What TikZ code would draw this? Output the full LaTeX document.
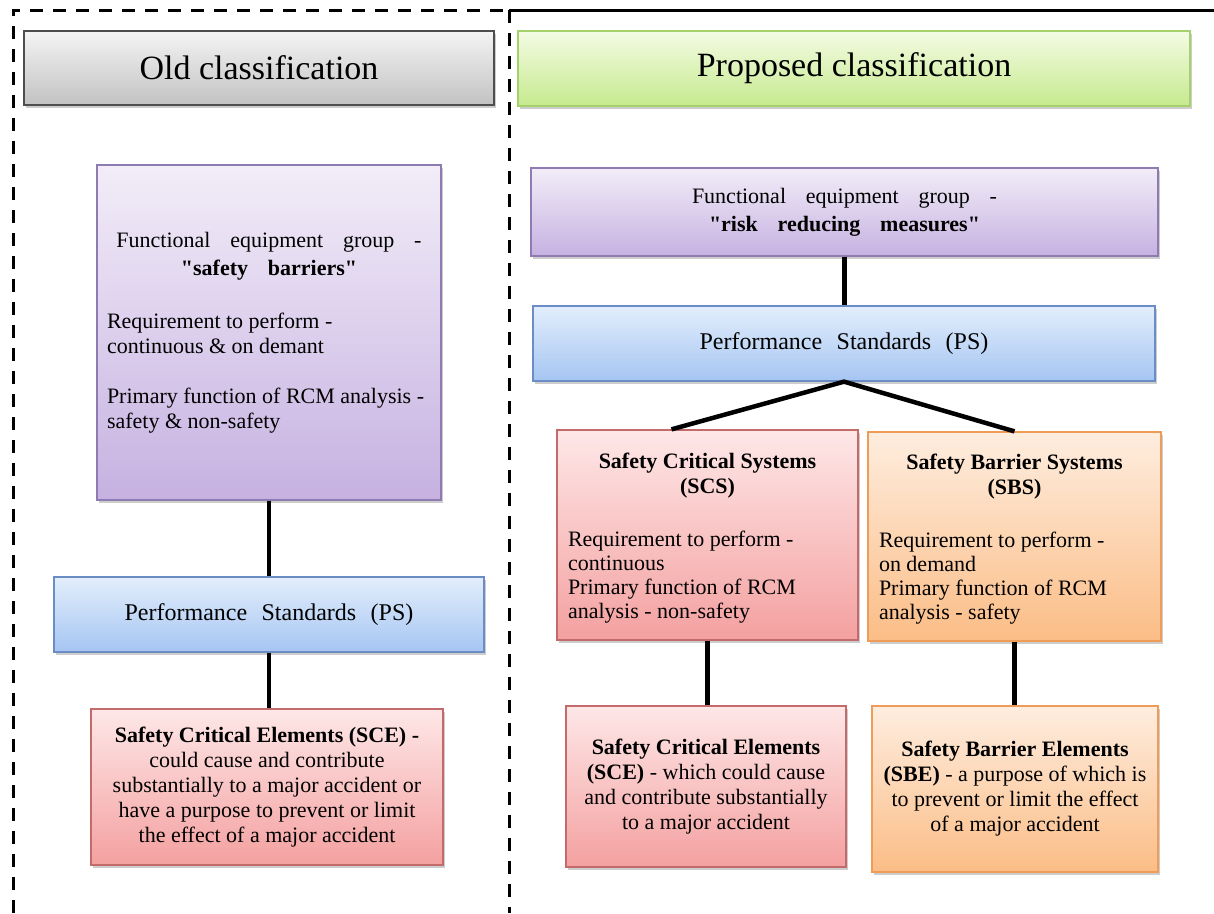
\documentclass[tikz,border=0pt]{standalone}
\usepackage{fontspec}
\setmainfont{Liberation Serif}
% a second instance without the TeX ligature mapping, for straight quotes
\newfontfamily\plainserif{Liberation Serif}
\usetikzlibrary{shadows,calc}

% fill colours: light top, deeper bottom, plus border
\definecolor{grayT}{HTML}{F4F4F4}\definecolor{grayB}{HTML}{C2C2C2}\definecolor{grayD}{HTML}{4E4E4E}
\definecolor{greenT}{HTML}{F4FBE4}\definecolor{greenB}{HTML}{C6EA8E}\definecolor{greenD}{HTML}{A6D06C}
\definecolor{purpT}{HTML}{F2EDF8}\definecolor{purpB}{HTML}{C6B1E1}\definecolor{purpD}{HTML}{8D7BB2}
\definecolor{blueT}{HTML}{E3EEFC}\definecolor{blueB}{HTML}{A5C5F2}\definecolor{blueD}{HTML}{6A8DC5}
\definecolor{redT}{HTML}{FEE7E7}\definecolor{redB}{HTML}{F4A0A0}\definecolor{redD}{HTML}{C36A6A}
\definecolor{orngT}{HTML}{FEEDDF}\definecolor{orngB}{HTML}{FBBD86}\definecolor{orngD}{HTML}{EE9C58}

\newcommand{\wsp}{\hspace{0.9em}}
\newcommand{\sq}{{\plainserif"}}

\begin{document}
\begin{tikzpicture}[x=1pt,y=-1pt,
  box/.style={rectangle, draw, line width=1.3pt, inner sep=0pt, align=center,
    font=\fontsize{22}{25}\selectfont,
    drop shadow={shadow xshift=1.5pt, shadow yshift=-2.5pt, opacity=0.28, fill=black!70}},
  graybox/.style={box, draw=grayD, top color=grayT, bottom color=grayB},
  greenbox/.style={box, draw=greenD, top color=greenT, bottom color=greenB},
  purpbox/.style={box, draw=purpD, top color=purpT, bottom color=purpB},
  bluebox/.style={box, draw=blueD, top color=blueT, bottom color=blueB},
  redbox/.style={box, draw=redD, top color=redT, bottom color=redB},
  orngbox/.style={box, draw=orngD, top color=orngT, bottom color=orngB},
  titlefont/.style={font=\fontsize{34}{40}\selectfont},
  psfont/.style={font=\fontsize{24}{28}\selectfont},
  link/.style={draw=black, line width=4.5pt},
  frame/.style={draw=black, line width=3pt},
  framedash/.style={frame, dash pattern=on 13pt off 10pt}
]
\useasboundingbox (0,0) rectangle (1214,913);

% outer frame and divider
\coordinate (tl) at (13,10);
\coordinate (bl) at (13,913);
\coordinate (dt) at (509,10);
\coordinate (db) at (509,913);
\coordinate (tr) at (1214,10);
\draw[framedash] (bl) -- (tl) -- (dt);
\draw[framedash] (dt) -- (db);
\draw[frame] (dt) -- (tr);

% headers
\node[graybox, titlefont, minimum width=470pt, minimum height=74pt] (oldhdr) at (259,68) {Old classification};
\node[greenbox, titlefont, minimum width=672pt, minimum height=75pt] (newhdr) at (854,68.5) {Proposed classification};

% old classification column
\node[purpbox, minimum width=344pt, minimum height=335pt] (oldfeg) at (269,332.5) {%
  \begin{minipage}{324pt}
  {\centering Functional\wsp equipment\wsp group\wsp -\\[3pt]
   \textbf{\sq safety\wsp barriers\sq}\par}
  \vspace{28pt}
  {\raggedright Requirement to perform -\\ continuous \& on demant\par}
  \vspace{25pt}
  {\raggedright Primary function of RCM analysis -\\ safety \& non-safety\par}
  \end{minipage}};
\node[bluebox, psfont, minimum width=430pt, minimum height=75pt] (oldps) at (269,614.5)
  {Performance\hspace{0.6em}Standards\hspace{0.6em}(PS)};
\node[redbox, minimum width=352pt, minimum height=156pt] (oldsce) at (267,787)
  {\textbf{Safety Critical Elements (SCE) -}\\ could cause and contribute\\
   substantially to a major accident or\\ have a purpose to prevent or limit\\
   the effect of a major accident};

% proposed classification column
\node[purpbox, minimum width=627pt, minimum height=88pt] (newfeg) at (844.5,212)
  {Functional\wsp equipment\wsp group\wsp -\\[3pt] \textbf{\sq risk\wsp reducing\wsp measures\sq}};
\node[bluebox, psfont, minimum width=622pt, minimum height=75pt] (newps) at (844,343.5)
  {Performance\hspace{0.6em}Standards\hspace{0.6em}(PS)};
\node[redbox, minimum width=301pt, minimum height=210pt] (scs) at (707.5,535) {%
  \begin{minipage}{279pt}
  \vspace*{6pt}
  {\centering\bfseries Safety Critical Systems\\ (SCS)\par}
  \vspace{29pt}
  {\raggedright\baselineskip=24pt Requirement to perform -\\ continuous\\
   Primary function of RCM\\ analysis - non-safety\par}
  \end{minipage}};
\node[orngbox, minimum width=293pt, minimum height=209pt] (sbs) at (1014.5,536.5) {%
  \begin{minipage}{271pt}
  \vspace*{6pt}
  {\centering\bfseries Safety Barrier Systems\\ (SBS)\par}
  \vspace{29pt}
  {\raggedright\baselineskip=24pt Requirement to perform -\\ on demand\\
   Primary function of RCM\\ analysis - safety\par}
  \end{minipage}};
\node[redbox, minimum width=280pt, minimum height=161pt] (newsce) at (706,786.5)
  {\textbf{Safety Critical Elements}\\ \textbf{(SCE)} - which could cause\\
   and contribute substantially\\ to a major accident};
\node[orngbox, minimum width=286pt, minimum height=166pt] (sbe) at (1015,789)
  {\textbf{Safety Barrier Elements}\\ \textbf{(SBE)} - a purpose of which is\\
   to prevent or limit the effect\\ of a major accident};

% connectors
\draw[link] (oldfeg.south) -- (oldps.north);
\draw[link] (oldps.south) -- (oldps.south |- oldsce.north);
\draw[link] (newfeg.south) -- (newfeg.south |- newps.north);
\draw[link] ([xshift=-36pt]scs.north) -- (newps.south) -- (sbs.north);
\draw[link] (scs.south) -- (scs.south |- newsce.north);
\draw[link] (sbs.south) -- (sbs.south |- sbe.north);
\end{tikzpicture}
\end{document}
